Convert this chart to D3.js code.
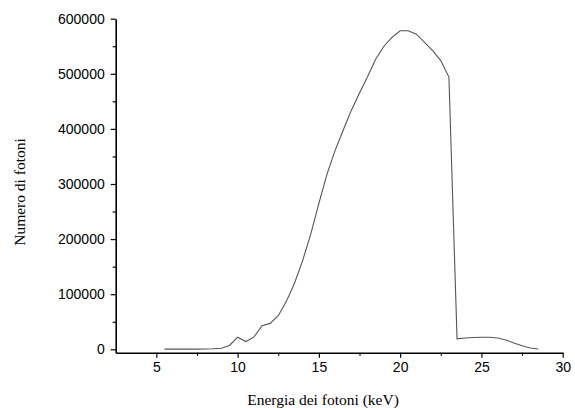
<!DOCTYPE html>
<html>
<head>
<meta charset="utf-8">
<script src="https://cdn.jsdelivr.net/npm/d3@7"></script>
<style>
  html, body { margin: 0; padding: 0; background: #fff; }
  svg { display: block; }
</style>
</head>
<body>
<svg id="chart" width="575" height="408"></svg>
<script>
// Data
const energy = [5.5, 6, 6.5, 7, 7.5, 8, 8.5, 9, 9.5, 10, 10.5, 11, 11.5, 12, 12.5, 13, 13.5, 14, 14.5, 15,
                15.5, 16, 16.5, 17, 17.5, 18, 18.5, 19, 19.5, 20, 20.5, 21, 21.5, 22, 22.5, 23,
                23.5, 24, 24.5, 25, 25.5, 26, 26.5, 27, 27.5, 28, 28.5];
const photons = [300, 300, 300, 300, 400, 600, 1000, 2000, 7000, 22000, 14000, 22000, 43000, 47000, 61000, 87000, 120000, 161000, 209000, 265000,
                 318000, 361000, 398000, 434000, 465000, 495000, 527000, 550000, 566000, 578000, 578000, 572000, 557000, 542000, 524000, 494000,
                 19000, 20500, 21500, 22000, 22000, 20500, 17000, 11500, 6500, 2500, 500];
const xMajorTicks = [5, 10, 15, 20, 25, 30];
const xMinorTicks = [7.5, 12.5, 17.5, 22.5, 27.5];
const yMajorTicks = [0, 100000, 200000, 300000, 400000, 500000, 600000];
const yMinorTicks = [50000, 150000, 250000, 350000, 450000, 550000];
const xTitle = "Energia dei fotoni (keV)";
const yTitle = "Numero di fotoni";

(function () {
const svg = d3.select("#chart");
const mLeft = 115.7, mRight = 562.7, mTop = 18.7, mBottom = 352.7;

const x = d3.scaleLinear().domain([2.5, 30]).range([mLeft, mRight]);
const y = d3.scaleLinear().domain([-6170, 600000]).range([mBottom, mTop]);

const tickFont = "'Liberation Sans', Arial, sans-serif";
const titleFont = "'Liberation Serif', 'Times New Roman', serif";

// X axis
const gx = svg.append("g").attr("transform", `translate(0,${mBottom})`);
gx.call(d3.axisBottom(x).tickValues(xMajorTicks).tickSize(5).tickSizeOuter(0).tickPadding(4).tickFormat(d3.format("d")));
gx.append("g").call(d3.axisBottom(x).tickValues(xMinorTicks).tickSize(3).tickSizeOuter(0).tickFormat(""))
  .select(".domain").remove();

// Y axis
const gy = svg.append("g").attr("transform", `translate(${mLeft},0)`);
gy.call(d3.axisLeft(y).tickValues(yMajorTicks).tickSize(5).tickSizeOuter(0).tickPadding(6).tickFormat(d3.format("d")));
gy.append("g").call(d3.axisLeft(y).tickValues(yMinorTicks).tickSize(3).tickSizeOuter(0).tickFormat(""))
  .select(".domain").remove();

svg.selectAll(".domain").attr("stroke", "#000").attr("stroke-width", 1.6);
svg.selectAll(".tick line").attr("stroke", "#000").attr("stroke-width", 1.2);
svg.selectAll(".tick text").attr("font-family", tickFont).attr("font-size", 14).attr("fill", "#000");

// Line
const line = d3.line().x((d, i) => x(energy[i])).y(d => y(d));
svg.append("path")
  .datum(photons)
  .attr("d", line)
  .attr("fill", "none")
  .attr("stroke", "#555")
  .attr("stroke-width", 1.1);

// Titles
svg.append("text")
  .attr("x", 323).attr("y", 405)
  .attr("text-anchor", "middle")
  .attr("font-family", titleFont).attr("font-size", 15.5).attr("fill", "#000")
  .text(xTitle);

svg.append("text")
  .attr("transform", "translate(25,192) rotate(-90)")
  .attr("text-anchor", "middle")
  .attr("font-family", titleFont).attr("font-size", 15.5).attr("fill", "#000")
  .text(yTitle);
})();
</script>
</body>
</html>
